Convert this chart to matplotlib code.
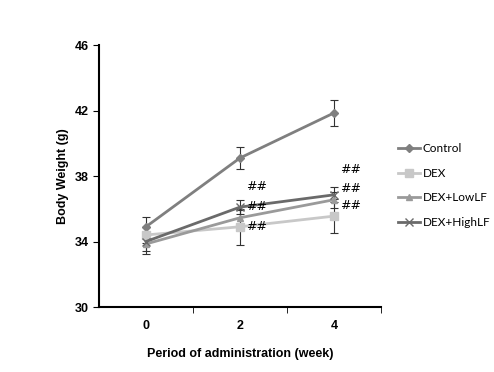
import matplotlib.pyplot as plt
from matplotlib.lines import Line2D

weeks = ["0", "2", "4"]
groups = ["Control", "DEX", "DEX+LowLF", "DEX+HighLF"]
control = [34.9, 39.1, 41.85]
control_err = [0.6, 0.65, 0.8]
dex = [34.4, 34.9, 35.55]
dex_err = [0.5, 1.1, 1.05]
low_lf = [33.85, 35.45, 36.55]
low_lf_err = [0.6, 0.5, 0.5]
high_lf = [34.0, 36.1, 36.85]
high_lf_err = [0.6, 0.45, 0.45]
# "##" marks: (week index, y value)
marks_x = [1, 1, 1, 2, 2, 2]
marks_y = [37.35, 36.15, 34.9, 38.4, 37.25, 36.2]

plt.rcParams["font.family"] = ["Liberation Sans", "DejaVu Sans"]

fig = plt.figure(figsize=(4.94, 3.72), dpi=100)
ax = fig.add_axes([0.2004, 0.1747, 0.5706, 0.7043])

x = range(len(weeks))
styles = [
    (control, control_err, "#7f7f7f", "D", 4),
    (dex, dex_err, "#c8c8c8", "s", 6),
    (low_lf, low_lf_err, "#9a9a9a", "^", 5),
    (high_lf, high_lf_err, "#6a6a6a", "x", 6),
]
handles = []
for (vals, err, col, mk, ms), name in zip(styles, groups):
    ax.errorbar(x, vals, yerr=err, color=col, marker=mk, markersize=ms,
                lw=2, ecolor="#333333", elinewidth=0.8, capsize=3,
                capthick=0.8)
    handles.append(Line2D([], [], color=col, marker=mk, markersize=ms,
                          lw=2, label=name))

for mx, my in zip(marks_x, marks_y):
    ax.text(mx + 0.06, my, "##", fontsize=9, va="center", ha="left",
            family="DejaVu Sans")

ax.set_xlim(-0.5, 2.5)
ax.set_ylim(30, 46)
ax.set_yticks([30, 34, 38, 42, 46])
ax.set_xticks([0, 1, 2])
ax.set_xticklabels(weeks)
ax.set_xticks([0.5, 1.5, 2.5], minor=True)
ax.tick_params(axis="x", which="major", length=0, pad=9)
ax.tick_params(axis="x", which="minor", length=4, direction="out")
ax.tick_params(axis="y", length=4, direction="out")
for lab in ax.get_xticklabels() + ax.get_yticklabels():
    lab.set_fontweight("bold")
    lab.set_fontsize(9)
for s in ["top", "right"]:
    ax.spines[s].set_visible(False)
for s in ["left", "bottom"]:
    ax.spines[s].set_linewidth(1.5)

ax.set_xlabel("Period of administration (week)", fontsize=9,
              fontweight="bold", labelpad=12)
ax.set_ylabel("Body Weight (g)", fontsize=9, fontweight="bold", labelpad=4)

ax.legend(handles=handles, loc="upper left", bbox_to_anchor=(1.06, 0.625),
          frameon=False, borderpad=0, borderaxespad=0,
          prop={"family": "Lato", "size": 8.5}, handlelength=1.9,
          handletextpad=0.2, labelspacing=1.15)

fig.savefig("out.png", dpi=100)
